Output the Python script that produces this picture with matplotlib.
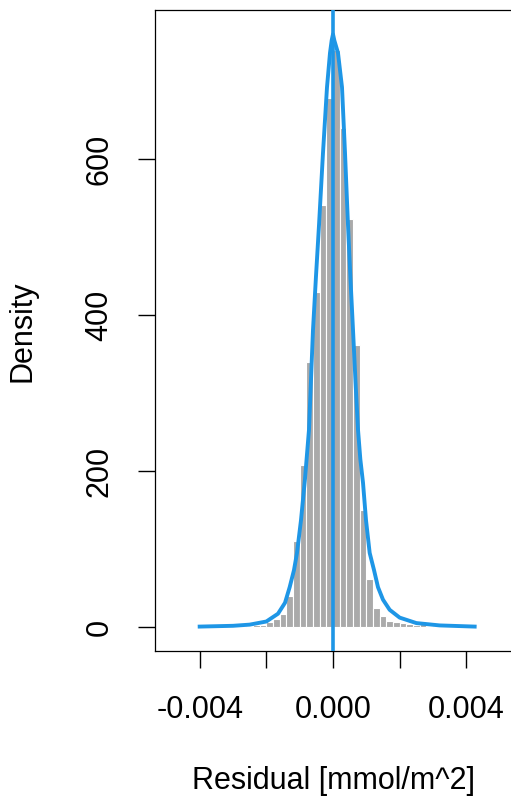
import numpy as np
import matplotlib
matplotlib.use("Agg")
import matplotlib.pyplot as plt

plt.rcParams["font.family"] = ["Liberation Sans", "DejaVu Sans"]

# histogram bins (left edges) and densities
bin_left = [-0.0026, -0.0024, -0.0022, -0.0020, -0.0018, -0.0016, -0.0014,
            -0.0012, -0.0010, -0.0008, -0.0006, -0.0004, -0.0002, 0.0000,
            0.0002, 0.0004, 0.0006, 0.0008, 0.0010, 0.0012, 0.0014,
            0.0016, 0.0018, 0.0020, 0.0022, 0.0024, 0.0026, 0.0028]
bin_density = [1, 2, 3, 6, 10, 17, 40,
               110, 208, 340, 430, 541, 678, 740,
               640, 523, 361, 150, 62, 24, 14,
               8, 7, 5, 4, 3, 5, 1]
bin_width = 0.0002

# fitted density curve
curve_x = [-0.0040, -0.0035, -0.0030, -0.0025, -0.0020, -0.00165, -0.00144,
           -0.0013, -0.00117, -0.00108, -0.00096, -0.00084, -0.00072, -0.0006,
           -0.00051, -0.00042, -0.0003, -0.00018, -0.00009, -0.00004, 0.0,
           0.00004, 0.00015, 0.00027, 0.00036, 0.00045, 0.00052, 0.0006,
           0.00068, 0.00075, 0.00082, 0.0009, 0.00099, 0.0011, 0.00123,
           0.00135, 0.0015, 0.0017, 0.0020, 0.0025, 0.0032, 0.00425]
curve_y = [0.5, 1, 1.5, 3, 7, 17, 31,
           51, 73, 95, 137, 190, 253, 381,
           450, 515, 608, 692, 736, 752, 760,
           752, 736, 692, 608, 515, 450, 381,
           310, 253, 215, 185, 137, 95, 73,
           51, 35, 22, 12, 5, 2, 0.5]

x_ticks = [-0.004, -0.002, 0.0, 0.002, 0.004]
x_tick_labels = ["-0.004", "", "0.000", "", "0.004"]
y_ticks = [0, 200, 400, 600]

blue = "#1E96E6"

fig = plt.figure(figsize=(5.11, 8.05), dpi=100)
ax = fig.add_axes([155 / 511, 1 - 651 / 805, (513 - 155) / 511, (651 - 10) / 805])

ax.bar(bin_left, bin_density, width=bin_width, align="edge",
       color="#AAAAAA", edgecolor="white", linewidth=0.8, zorder=1)
ax.plot(curve_x, curve_y, color=blue, linewidth=2.8, zorder=3,
        solid_joinstyle="round")
ax.axvline(0, color=blue, linewidth=2.6, zorder=4)

ax.set_xlim(-0.00534, 0.0054)
ax.set_ylim(-30.8, 791)

ax.set_xticks(x_ticks)
ax.set_xticklabels(x_tick_labels)
ax.set_yticks(y_ticks)
ax.set_yticklabels([str(v) for v in y_ticks], rotation=90, va="center")

ax.tick_params(axis="both", length=12, width=1, labelsize=22, color="black")
ax.tick_params(axis="x", pad=20)
ax.tick_params(axis="y", pad=17)
for s in ax.spines.values():
    s.set_linewidth(0.9)
    s.set_color("black")

fig.text(23 / 511, 1 - 331 / 805, "Density", rotation=90, ha="center", va="center", fontsize=22)
fig.text(333 / 511, 1 - 789 / 805, "Residual [mmol/m^2]", ha="center", va="baseline", fontsize=22)

fig.savefig("out.png", dpi=100)
